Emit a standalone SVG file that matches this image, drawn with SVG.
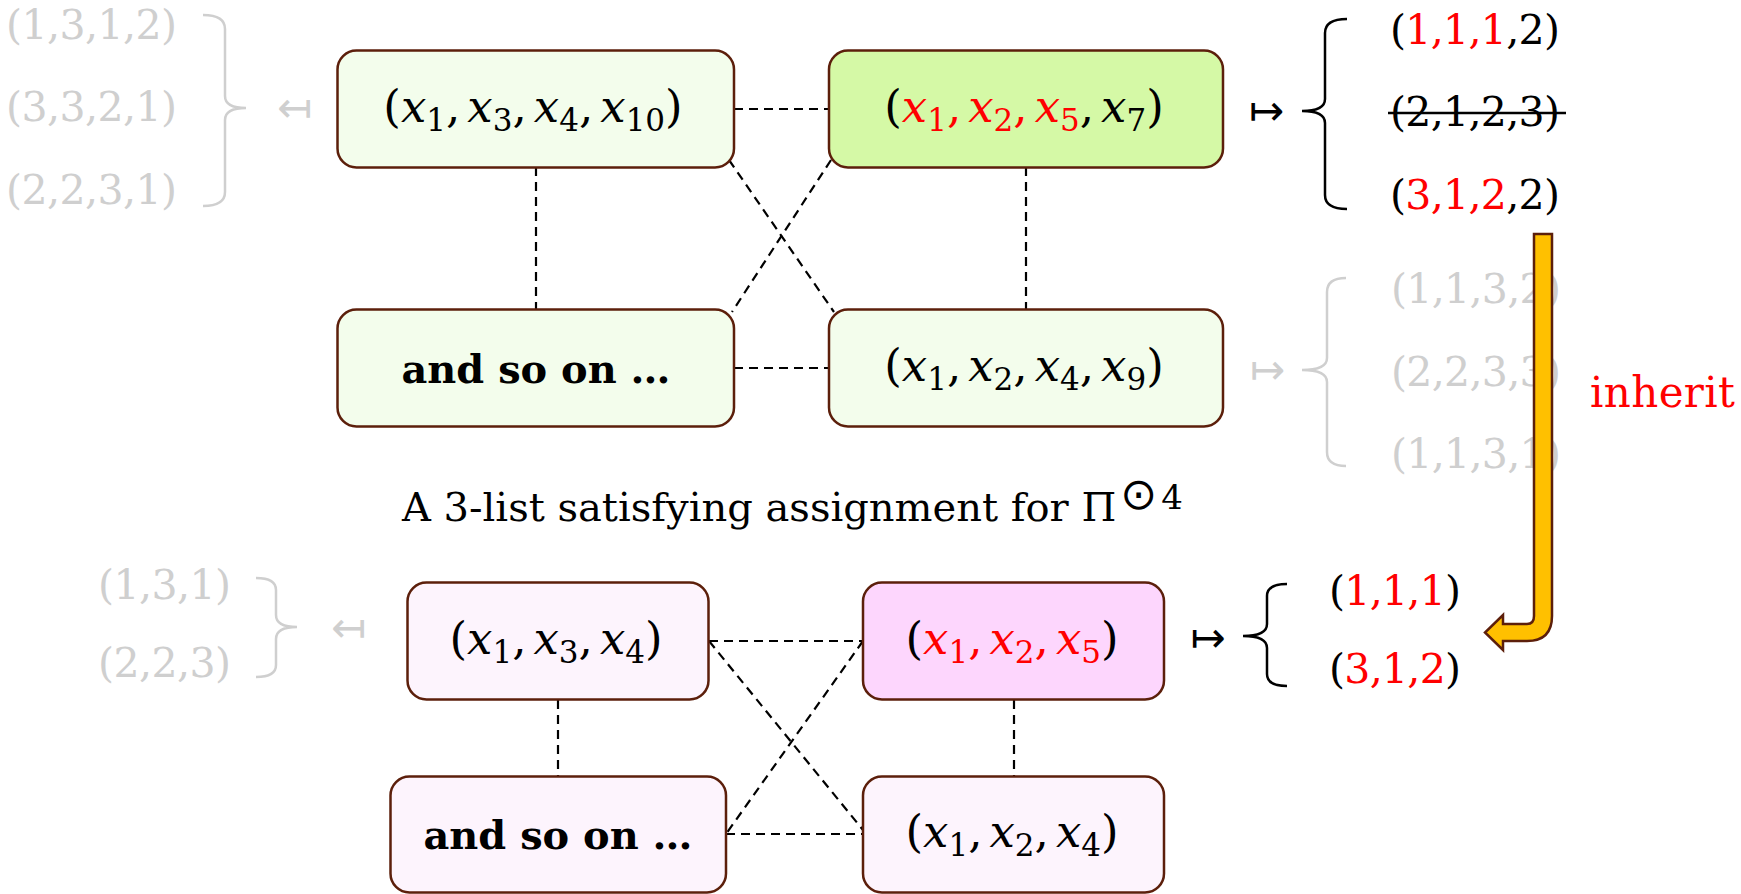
<svg xmlns="http://www.w3.org/2000/svg" width="1741" height="894" viewBox="0 0 1741 894">
<defs>
<style>
.box{stroke:#5c1f0b;stroke-width:2.5}
.g1{fill:#f3fdec}.g2{fill:#d5f9a6}.p1{fill:#fdf4fd}.p2{fill:#fdd6fd}
.m{font-family:"DejaVu Serif",serif;font-size:45px;fill:#000}
.i{font-style:italic}
.s{font-size:31px}
.r{fill:#ff0000}
.tu{font-family:"DejaVu Serif",serif;font-size:41px;fill:#000}
.gr{fill:#cfcfcf}
.ar{font-family:"DejaVu Sans",sans-serif;font-size:42px}
.lab{font-family:"DejaVu Serif",serif;font-size:40px;fill:#000}
.bold{font-weight:bold}
.br{fill:none;stroke-width:2.5}
.dash{fill:none;stroke:#000;stroke-width:2.2;stroke-dasharray:9 6}
</style>
</defs>
<rect width="1741" height="894" fill="#fff"/>

<g id="connectors">
<line class="dash" x1="734" y1="109" x2="829" y2="109"/>
<line class="dash" x1="734" y1="368" x2="829" y2="368"/>
<line class="dash" x1="536" y1="167" x2="536" y2="309"/>
<line class="dash" x1="1026" y1="167" x2="1026" y2="309"/>
<line class="dash" x1="729" y1="160" x2="834" y2="312"/>
<line class="dash" x1="831" y1="160" x2="732" y2="312"/>
<line class="dash" x1="709" y1="641" x2="863" y2="641"/>
<line class="dash" x1="726" y1="834" x2="863" y2="834"/>
<line class="dash" x1="558" y1="700" x2="558" y2="776"/>
<line class="dash" x1="1014" y1="700" x2="1014" y2="776"/>
<line class="dash" x1="709" y1="641" x2="863" y2="830"/>
<line class="dash" x1="863" y1="641" x2="726" y2="834"/>
</g>

<g id="node-top-left">
<rect class="box g1" x="337.5" y="50.5" width="396.5" height="117" rx="19"/>
<text class="m" x="533" y="122" text-anchor="middle">(<tspan class="i">x</tspan><tspan class="s" dy="9">1</tspan><tspan dy="-9">,</tspan><tspan class="i" dx="7">x</tspan><tspan class="s" dy="9">3</tspan><tspan dy="-9">,</tspan><tspan class="i" dx="7">x</tspan><tspan class="s" dy="9">4</tspan><tspan dy="-9">,</tspan><tspan class="i" dx="7">x</tspan><tspan class="s" dy="9">10</tspan><tspan dy="-9">)</tspan></text>
</g>

<g id="node-top-right">
<rect class="box g2" x="829" y="50.5" width="394" height="117" rx="19"/>
<text class="m" x="1024" y="122" text-anchor="middle">(<tspan class="i r">x</tspan><tspan class="s r" dy="9">1</tspan><tspan class="r" dy="-9">,</tspan><tspan class="i r" dx="7">x</tspan><tspan class="s r" dy="9">2</tspan><tspan class="r" dy="-9">,</tspan><tspan class="i r" dx="7">x</tspan><tspan class="s r" dy="9">5</tspan><tspan dy="-9">,</tspan><tspan class="i" dx="7">x</tspan><tspan class="s" dy="9">7</tspan><tspan dy="-9">)</tspan></text>
</g>

<g id="node-mid-left">
<rect class="box g1" x="337.5" y="309.5" width="396.5" height="117" rx="19"/>
<text class="lab bold" x="536" y="383" text-anchor="middle" textLength="269" lengthAdjust="spacingAndGlyphs">and so on …</text>
</g>

<g id="node-mid-right">
<rect class="box g1" x="829" y="309.5" width="394" height="117" rx="19"/>
<text class="m" x="1024" y="381" text-anchor="middle">(<tspan class="i">x</tspan><tspan class="s" dy="9">1</tspan><tspan dy="-9">,</tspan><tspan class="i" dx="7">x</tspan><tspan class="s" dy="9">2</tspan><tspan dy="-9">,</tspan><tspan class="i" dx="7">x</tspan><tspan class="s" dy="9">4</tspan><tspan dy="-9">,</tspan><tspan class="i" dx="7">x</tspan><tspan class="s" dy="9">9</tspan><tspan dy="-9">)</tspan></text>
</g>

<g id="top-left-lists">
<text class="tu gr" x="6" y="39" textLength="171">(1,3,1,2)</text>
<text class="tu gr" x="6" y="121" textLength="171">(3,3,2,1)</text>
<text class="tu gr" x="6" y="204" textLength="171">(2,2,3,1)</text>
<path class="br" stroke="#cfcfcf" d="M203,15 Q225,15 225,29 L225,96 Q225,108 246,108 Q225,108 225,120 L225,192 Q225,206 203,206"/>
<text class="ar gr" x="294.5" y="122" text-anchor="middle">↤</text>
</g>

<g id="top-right-lists">
<text class="ar" x="1266.5" y="125" text-anchor="middle">↦</text>
<path class="br" stroke="#000" d="M1347,19 Q1325,19 1325,33 L1325,99 Q1325,111 1302,111 Q1325,111 1325,123 L1325,195 Q1325,209 1347,209"/>
<text class="tu" x="1390" y="44" textLength="170">(<tspan class="r">1,1,1</tspan>,2)</text>
<text class="tu" x="1390" y="126" textLength="170">(2,1,2,3)</text>
<line x1="1388" y1="113" x2="1566" y2="113" stroke="#000" stroke-width="2.5"/>
<text class="tu" x="1390" y="209" textLength="170">(<tspan class="r">3,1,2</tspan>,2)</text>
</g>

<g id="mid-right-lists">
<text class="ar gr" x="1267.5" y="384" text-anchor="middle">↦</text>
<path class="br" stroke="#cfcfcf" d="M1346,278 Q1327,278 1327,292 L1327,358 Q1327,370 1302,370 Q1327,370 1327,382 L1327,452 Q1327,466 1346,466"/>
<text class="tu gr" x="1391" y="303" textLength="170">(1,1,3,2)</text>
<text class="tu gr" x="1391" y="386" textLength="170">(2,2,3,3)</text>
<text class="tu gr" x="1391" y="468" textLength="170">(1,1,3,1)</text>
</g>

<g id="inherit-arrow">
<path d="M1534,234 L1552,234 L1552,616 Q1552,641 1527,641 L1503,641 L1503,650 L1485,632.5 L1503,615 L1503,624 L1527,624 Q1534,624 1534,616 Z" fill="#ffc000" stroke="#5c1f0b" stroke-width="2.5" stroke-linejoin="miter"/>
<text x="1590" y="407" font-family="DejaVu Serif, serif" font-size="42" fill="#ff0000" textLength="145">inherit</text>
</g>

<g id="caption">
<text class="lab" x="402" y="521">A 3-list satisfying assignment for Π<tspan font-family="DejaVu Sans, sans-serif" font-size="44" dx="4" dy="-12">⊙</tspan><tspan font-size="34" dx="4">4</tspan></text>
</g>

<g id="node-bot-left">
<rect class="box p1" x="407.5" y="582.5" width="301" height="117" rx="19"/>
<text class="m" x="556" y="654" text-anchor="middle">(<tspan class="i">x</tspan><tspan class="s" dy="9">1</tspan><tspan dy="-9">,</tspan><tspan class="i" dx="7">x</tspan><tspan class="s" dy="9">3</tspan><tspan dy="-9">,</tspan><tspan class="i" dx="7">x</tspan><tspan class="s" dy="9">4</tspan><tspan dy="-9">)</tspan></text>
</g>

<g id="node-bot-right">
<rect class="box p2" x="863" y="582.5" width="301" height="117" rx="19"/>
<text class="m" x="1012" y="654" text-anchor="middle">(<tspan class="i r">x</tspan><tspan class="s r" dy="9">1</tspan><tspan class="r" dy="-9">,</tspan><tspan class="i r" dx="7">x</tspan><tspan class="s r" dy="9">2</tspan><tspan class="r" dy="-9">,</tspan><tspan class="i r" dx="7">x</tspan><tspan class="s r" dy="9">5</tspan><tspan dy="-9">)</tspan></text>
</g>

<g id="node-bot-left2">
<rect class="box p1" x="390.5" y="776.5" width="335.5" height="116" rx="19"/>
<text class="lab bold" x="558" y="849" text-anchor="middle" textLength="269" lengthAdjust="spacingAndGlyphs">and so on …</text>
</g>

<g id="node-bot-right2">
<rect class="box p1" x="863" y="776.5" width="301" height="116" rx="19"/>
<text class="m" x="1012" y="847" text-anchor="middle">(<tspan class="i">x</tspan><tspan class="s" dy="9">1</tspan><tspan dy="-9">,</tspan><tspan class="i" dx="7">x</tspan><tspan class="s" dy="9">2</tspan><tspan dy="-9">,</tspan><tspan class="i" dx="7">x</tspan><tspan class="s" dy="9">4</tspan><tspan dy="-9">)</tspan></text>
</g>

<g id="bottom-left-lists">
<text class="tu gr" x="98" y="599" textLength="133">(1,3,1)</text>
<text class="tu gr" x="98" y="677" textLength="133">(2,2,3)</text>
<path class="br" stroke="#cfcfcf" d="M256,578 Q276,578 276,590 L276,615 Q276,627 297,627 Q276,627 276,639 L276,665 Q276,677 256,677"/>
<text class="ar gr" x="348.5" y="642" text-anchor="middle">↤</text>
</g>

<g id="bottom-right-lists">
<text class="ar" x="1208" y="652" text-anchor="middle">↦</text>
<path class="br" stroke="#000" d="M1287,584 Q1267,584 1267,596 L1267,624 Q1267,636 1243,636 Q1267,636 1267,648 L1267,674 Q1267,686 1287,686"/>
<text class="tu" x="1329" y="605" textLength="132">(<tspan class="r">1,1,1</tspan>)</text>
<text class="tu" x="1329" y="683" textLength="132">(<tspan class="r">3,1,2</tspan>)</text>
</g>
</svg>
